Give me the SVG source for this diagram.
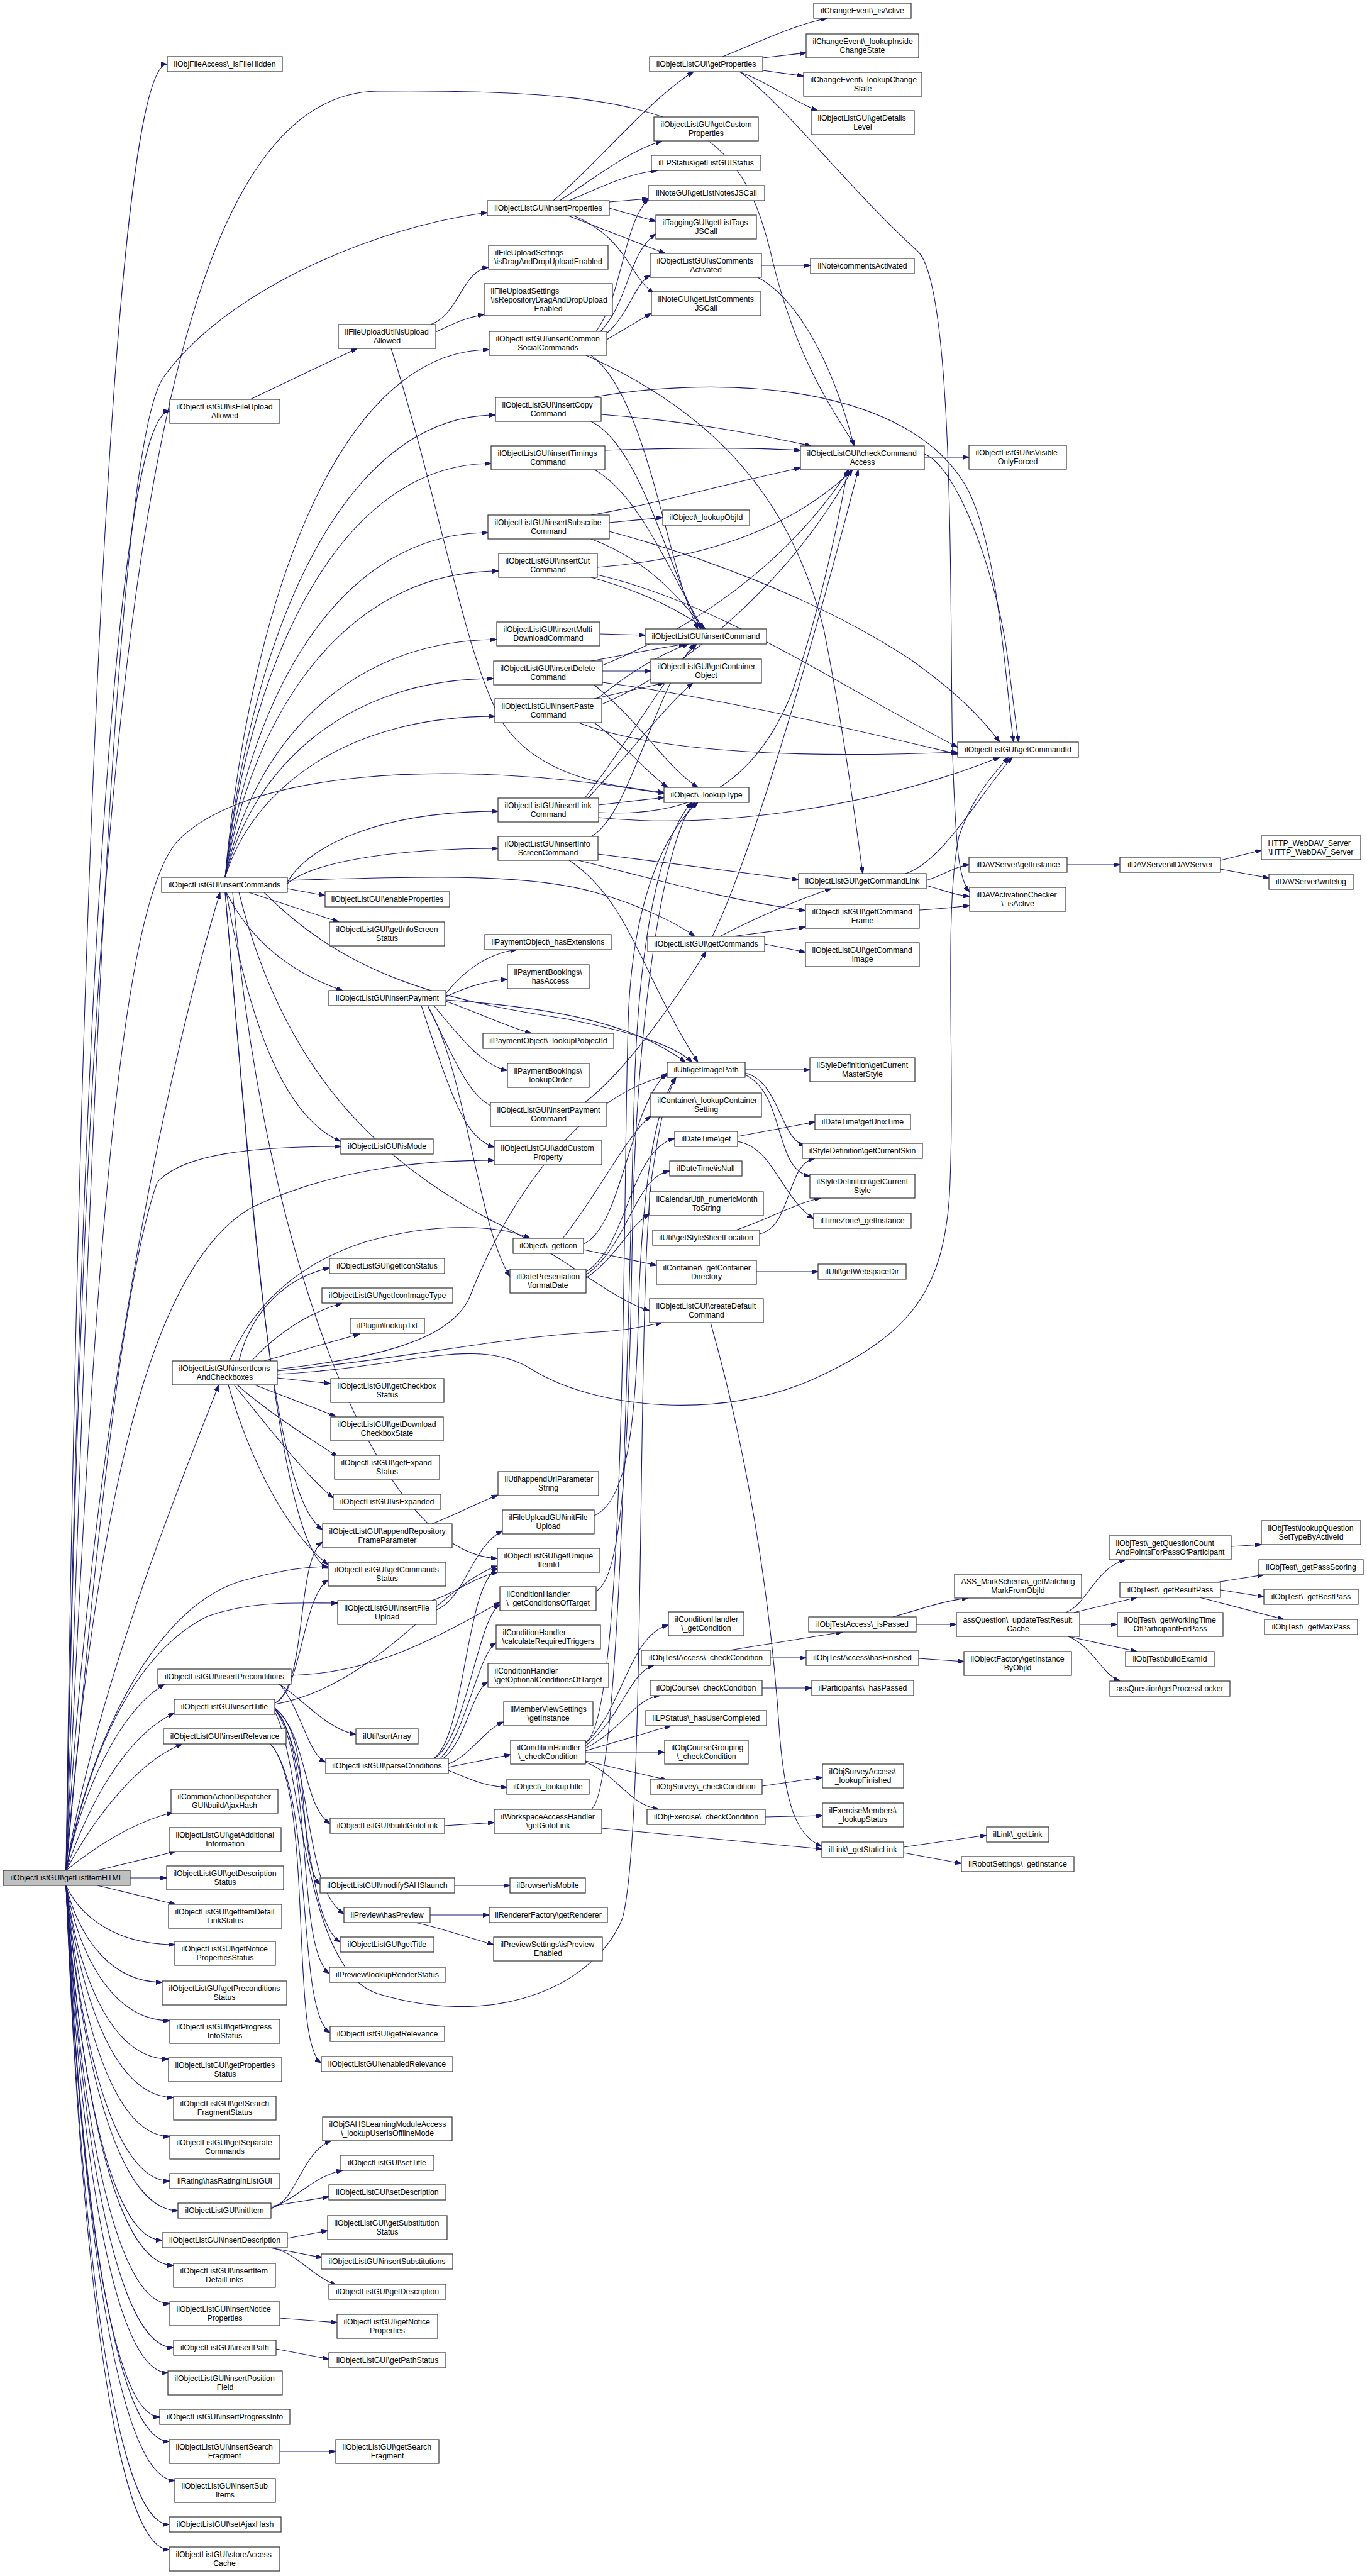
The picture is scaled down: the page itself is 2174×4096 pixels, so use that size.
<svg xmlns="http://www.w3.org/2000/svg" width="2174" height="4096" viewBox="0 0 2174 4096">
<style>
.n rect{fill:#fff;stroke:#333;stroke-width:1.2}
.n text{font-family:"Liberation Sans",Arial,sans-serif;font-size:12.3px;fill:#000}
.c{text-anchor:middle}
.e path{fill:none;stroke:#191970;stroke-width:1.1;marker-end:url(#a)}
</style>
<defs><marker id="a" viewBox="0 0 10 7" refX="10" refY="3.5" markerWidth="10" markerHeight="7" markerUnits="userSpaceOnUse" orient="auto"><path d="M0,0 L10,3.5 L0,7 z" fill="#191970" stroke="#191970" stroke-width="1"/></marker></defs>
<rect width="2174" height="4096" fill="#fff"/>
<g id="edges" class="e">
<path d="M105,2974 C129,1251 186,102 266,102"/>
<path d="M105,2974 C130,1582 188,654 270,654"/>
<path d="M105,2974 C150,1600 190,700 260,600 C360,460 600,360 775,338"/>
<path d="M105,2974 C140,1200 220,150 600,145 C1100,140 1180,200 1230,420 C1270,580 1330,660 1359,708"/>
<path d="M105,2974 C150,2200 280,1650 350,1419"/>
<path d="M105,2974 C150,2000 190,1450 280,1340 C380,1230 700,1200 1056,1262"/>
<path d="M105,2974 C150,2500 190,2050 250,1880 C290,1835 400,1823 542,1823"/>
<path d="M105,2974 C150,2700 270,2400 348,2202"/>
<path d="M105,2974 C140,2780 240,2560 380,2515 C450,2495 490,2491 522,2491"/>
<path d="M105,2974 C150,2750 230,2620 330,2570 C400,2545 470,2549 537,2549"/>
<path d="M105,2974 C130,2850 190,2720 262,2678"/>
<path d="M105,2974 C140,2870 200,2760 277,2724"/>
<path d="M105,2974 C150,2890 220,2800 290,2773"/>
<path d="M105,2974 C160,2930 220,2895 275,2882"/>
<path d="M155,2974 L279,2944"/>
<path d="M207,2986 L265,2986"/>
<path d="M155,2998 L279,3028"/>
<path d="M105,2998 C131,3054 192,3092 278,3092"/>
<path d="M105,2998 C128,3090 182,3152 258,3152"/>
<path d="M105,2998 C130,3127 188,3213 270,3213"/>
<path d="M105,2998 C129,3164 186,3274 268,3274"/>
<path d="M105,2998 C131,3200 190,3335 276,3335"/>
<path d="M105,2998 C130,3237 188,3397 270,3397"/>
<path d="M105,2998 C130,3276 188,3468 270,3468"/>
<path d="M105,2998 C132,3307 194,3515 283,3515"/>
<path d="M105,2998 C128,3333 182,3562 258,3562"/>
<path d="M105,2998 C131,3360 190,3602 276,3602"/>
<path d="M105,2998 C130,3397 188,3663 270,3663"/>
<path d="M105,2998 C131,3435 190,3733 276,3733"/>
<path d="M105,2998 C129,3463 186,3773 267,3773"/>
<path d="M105,2998 C127,3501 180,3843 254,3843"/>
<path d="M105,2998 C130,3528 187,3882 269,3882"/>
<path d="M105,2998 C131,3566 192,3944 278,3944"/>
<path d="M105,2998 C130,3604 187,4014 269,4014"/>
<path d="M105,2998 C130,3632 187,4054 269,4054"/>
<path d="M105,2974 C160,2300 260,2000 400,1920 C550,1850 700,1845 786,1845"/>
<path d="M358,1395 C400,934 547,556 778,556"/>
<path d="M358,1395 C401,991 552,660 788,660"/>
<path d="M358,1395 C400,1033 548,737 781,737"/>
<path d="M358,1395 C400,1094 546,847 776,847"/>
<path d="M358,1395 C402,1127 554,908 793,908"/>
<path d="M358,1395 C401,1187 552,1017 790,1017"/>
<path d="M358,1395 C401,1221 550,1079 785,1079"/>
<path d="M358,1395 C401,1254 551,1139 787,1139"/>
<path d="M457,1403 C491,1343 608,1290 792,1290"/>
<path d="M457,1405 C491,1375 608,1349 792,1349"/>
<path d="M457,1400 C700,1392 850,1390 950,1420 C1020,1440 1080,1470 1105,1489"/>
<path d="M457,1413 L517,1424"/>
<path d="M396,1419 L539,1466"/>
<path d="M360,1419 C400,1500 470,1550 545,1575"/>
<path d="M360,1419 C400,1650 460,1780 542,1815"/>
<path d="M358,1419 C400,1900 430,2380 513,2432"/>
<path d="M358,1419 C400,1900 440,2460 522,2494"/>
<path d="M420,1419 C550,1550 700,1590 900,1620 C1000,1640 1070,1660 1101,1689"/>
<path d="M380,1419 C450,1700 600,1850 800,1950 C900,2000 980,2070 1033,2084"/>
<path d="M370,1419 C420,2000 600,2470 791,2478"/>
<path d="M380,2164 C400,2080 460,2030 524,2016"/>
<path d="M400,2164 C450,2110 500,2085 544,2072"/>
<path d="M420,2164 L572,2121"/>
<path d="M441,2191 L526,2200"/>
<path d="M405,2202 L534,2252"/>
<path d="M377,2202 C420,2240 480,2280 537,2316"/>
<path d="M372,2202 C420,2260 480,2340 530,2382"/>
<path d="M363,2202 C400,2330 460,2440 522,2488"/>
<path d="M365,2164 C400,2080 470,2010 580,1975 C700,1940 800,1950 843,1969"/>
<path d="M441,2177 C600,2160 720,2130 748,2060 C790,1950 900,1750 1061,1710"/>
<path d="M441,2180 C650,2160 800,2125 950,2118 C1000,2115 1030,2108 1053,2103"/>
<path d="M441,2185 C650,2175 760,2120 850,2180 C950,2240 1150,2260 1300,2190 C1450,2120 1500,2050 1510,1900 C1520,1700 1500,1450 1525,1330 C1545,1270 1580,1230 1604,1204"/>
<path d="M687,2423 C720,2410 760,2390 792,2377"/>
<path d="M694,2560 C740,2540 750,2460 799,2434"/>
<path d="M687,2545 C730,2530 750,2510 791,2500"/>
<path d="M945,2410 C990,2390 1010,2300 1015,2100 C1020,1900 1040,1760 1075,1713"/>
<path d="M948,2530 C990,2510 1000,2300 1005,2000 C1010,1600 1060,1320 1105,1276"/>
<path d="M444,2678 C480,2700 520,2750 566,2758"/>
<path d="M445,2678 C480,2720 490,2790 518,2802"/>
<path d="M463,2664 C600,2660 700,2600 795,2548"/>
<path d="M437,2718 C490,2760 480,3050 541,3088"/>
<path d="M437,2716 C500,2760 470,2960 509,2996"/>
<path d="M437,2716 C500,2800 480,3000 547,3043"/>
<path d="M437,2718 C500,2800 470,3100 524,3138"/>
<path d="M437,2716 C490,2760 480,2870 525,2900"/>
<path d="M437,2708 C480,2690 480,2540 522,2512"/>
<path d="M437,2708 C490,2680 470,2480 513,2452"/>
<path d="M437,2710 C600,2680 700,2520 791,2490"/>
<path d="M437,2722 C480,2800 480,3130 600,3170 C800,3230 950,3150 990,3050 C1030,2900 1010,2000 1040,1850 C1050,1780 1060,1740 1075,1713"/>
<path d="M430,2773 C500,2850 470,3200 525,3232"/>
<path d="M430,2773 C500,2850 460,3250 511,3280"/>
<path d="M690,2796 C740,2770 760,2570 795,2552"/>
<path d="M700,2796 C740,2760 760,2630 789,2612"/>
<path d="M705,2796 C740,2770 750,2690 776,2674"/>
<path d="M713,2805 C750,2790 770,2750 801,2738"/>
<path d="M713,2810 L812,2790"/>
<path d="M713,2815 C750,2830 770,2840 806,2842"/>
<path d="M690,2796 C740,2760 740,2520 791,2494"/>
<path d="M707,2903 L786,2898"/>
<path d="M723,2998 L811,2998"/>
<path d="M684,3045 L778,3045"/>
<path d="M660,3057 C700,3065 740,3080 785,3092"/>
<path d="M431,3510 C470,3505 480,3420 527,3404"/>
<path d="M431,3512 C480,3490 500,3460 545,3451"/>
<path d="M431,3508 L523,3493"/>
<path d="M457,3559 L521,3547"/>
<path d="M430,3574 L513,3590"/>
<path d="M430,3574 C470,3580 490,3615 535,3634"/>
<path d="M445,3686 L536,3693"/>
<path d="M439,3735 L523,3751"/>
<path d="M445,3898 L534,3898"/>
<path d="M398,635 L568,554"/>
<path d="M685,516 C730,500 735,430 777,425"/>
<path d="M693,528 C720,515 740,505 770,500"/>
<path d="M622,554 C700,800 740,1050 800,1150 C860,1240 980,1250 1056,1260"/>
<path d="M880,319 C950,260 1030,160 1103,114"/>
<path d="M890,319 C950,280 1000,240 1053,224"/>
<path d="M905,319 C950,300 1000,275 1046,271"/>
<path d="M969,321 L1031,316"/>
<path d="M969,331 L1043,352"/>
<path d="M901,342 L1058,403"/>
<path d="M910,342 C1000,380 1000,440 1040,466"/>
<path d="M1149,90 C1200,70 1260,40 1316,29"/>
<path d="M1213,92 L1282,84"/>
<path d="M1213,112 L1278,121"/>
<path d="M1175,114 C1220,130 1260,160 1300,176"/>
<path d="M1177,114 C1260,180 1350,300 1460,400 C1520,460 1510,1000 1515,1200 C1520,1350 1525,1400 1542,1418"/>
<path d="M1211,422 L1289,422"/>
<path d="M1205,441 C1260,470 1320,560 1358,709"/>
<path d="M948,527 C990,470 990,360 1031,316"/>
<path d="M955,527 C1000,480 1000,400 1043,372"/>
<path d="M965,530 C1000,500 1010,450 1034,438"/>
<path d="M965,540 L1036,498"/>
<path d="M940,565 C1030,630 1060,900 1110,1000"/>
<path d="M932,565 C1100,640 1250,760 1310,1000 C1340,1150 1360,1300 1372,1389"/>
<path d="M956,659 C1100,670 1200,690 1290,709"/>
<path d="M940,670 C1020,710 1060,900 1115,1000"/>
<path d="M940,632 C1150,595 1450,610 1540,780 C1590,880 1600,1100 1612,1180"/>
<path d="M962,716 C1100,711 1200,712 1273,716"/>
<path d="M946,747 C1020,790 1070,920 1118,1000"/>
<path d="M969,831 L1054,823"/>
<path d="M940,819 C1050,800 1150,770 1273,744"/>
<path d="M940,857 C1030,890 1080,950 1120,1000"/>
<path d="M969,845 C1100,880 1300,950 1450,1050 C1520,1100 1560,1140 1590,1180"/>
<path d="M950,902 C1100,890 1250,850 1356,747"/>
<path d="M940,918 C1020,940 1080,970 1122,1000"/>
<path d="M950,914 C1150,960 1350,1100 1523,1188"/>
<path d="M954,1008 L1026,1010"/>
<path d="M958,1067 L1035,1067"/>
<path d="M940,1051 C1000,1040 1050,1030 1090,1024"/>
<path d="M958,1058 C1100,1000 1250,900 1350,747"/>
<path d="M958,1085 C1150,1110 1400,1170 1523,1199"/>
<path d="M945,1089 C1020,1150 1060,1220 1110,1252"/>
<path d="M945,1111 L1056,1086"/>
<path d="M950,1111 C1000,1070 1050,1040 1095,1024"/>
<path d="M957,1120 C1120,1050 1270,900 1355,747"/>
<path d="M920,1149 C1050,1200 1300,1205 1523,1196"/>
<path d="M945,1149 C1000,1190 1030,1230 1062,1252"/>
<path d="M952,1280 L1056,1268"/>
<path d="M935,1269 C1000,1200 1060,1120 1102,1086"/>
<path d="M930,1269 C1000,1180 1060,1070 1108,1024"/>
<path d="M952,1292 C1100,1300 1200,1250 1260,1100 C1300,980 1330,850 1348,747"/>
<path d="M952,1300 C1150,1320 1400,1280 1590,1204"/>
<path d="M940,1330 C1000,1300 1040,1100 1104,1024"/>
<path d="M951,1358 L1270,1399"/>
<path d="M920,1368 C1050,1400 1150,1430 1281,1448"/>
<path d="M905,1368 C1000,1430 1020,1550 1110,1689"/>
<path d="M1145,1489 C1200,1460 1270,1430 1322,1413"/>
<path d="M1165,1489 L1281,1474"/>
<path d="M1216,1501 L1281,1514"/>
<path d="M1133,1489 C1200,1350 1300,1000 1365,747"/>
<path d="M1440,1389 C1500,1370 1560,1260 1610,1204"/>
<path d="M1473,1400 C1500,1392 1520,1377 1541,1375"/>
<path d="M1473,1408 C1500,1415 1520,1424 1542,1425"/>
<path d="M1462,1447 C1500,1445 1520,1442 1542,1440"/>
<path d="M1697,1375 L1781,1375"/>
<path d="M1941,1368 L2006,1352"/>
<path d="M1941,1382 L2018,1396"/>
<path d="M1470,727 L1541,727"/>
<path d="M1470,722 C1520,740 1580,900 1600,1028 C1610,1100 1615,1150 1620,1180"/>
<path d="M928,1978 C990,1950 1000,1760 1061,1706"/>
<path d="M895,1969 C950,1900 1000,1800 1035,1775"/>
<path d="M928,1987 L1044,2012"/>
<path d="M932,2022 C1000,1980 1000,1830 1073,1810"/>
<path d="M932,2027 C1000,1980 1010,1870 1065,1862"/>
<path d="M932,2032 C980,2000 1000,1950 1033,1930"/>
<path d="M1173,1807 L1296,1784"/>
<path d="M1173,1815 C1230,1825 1240,1900 1294,1938"/>
<path d="M1185,1701 L1288,1701"/>
<path d="M1185,1706 C1240,1720 1240,1810 1280,1822"/>
<path d="M1185,1709 C1250,1740 1230,1860 1288,1870"/>
<path d="M1208,1962 C1260,1950 1250,1850 1296,1842"/>
<path d="M1170,1956 C1220,1940 1260,1915 1305,1905"/>
<path d="M1203,2022 L1301,2022"/>
<path d="M709,1580 C740,1540 780,1515 822,1510"/>
<path d="M709,1585 C740,1570 770,1560 807,1557"/>
<path d="M709,1592 C760,1610 800,1630 845,1643"/>
<path d="M690,1599 C740,1660 770,1695 807,1702"/>
<path d="M680,1599 C730,1700 750,1750 790,1762"/>
<path d="M670,1599 C720,1750 740,1810 786,1824"/>
<path d="M709,1590 C850,1600 1000,1620 1090,1689"/>
<path d="M680,1599 C740,1700 760,1950 811,2030"/>
<path d="M930,1753 C1000,1700 1080,1580 1123,1513"/>
<path d="M1130,2103 C1200,2350 1230,2600 1240,2760 C1250,2880 1270,2920 1307,2936"/>
<path d="M957,2907 L1307,2940"/>
<path d="M940,2877 C990,2850 1000,2000 1010,1700 C1020,1450 1060,1320 1100,1276"/>
<path d="M931,2772 C990,2720 1000,2600 1063,2584"/>
<path d="M931,2776 C990,2730 1000,2660 1040,2648"/>
<path d="M931,2780 C990,2750 1010,2700 1050,2696"/>
<path d="M931,2784 L1067,2744"/>
<path d="M931,2786 L1057,2786"/>
<path d="M931,2800 L1060,2830"/>
<path d="M931,2802 C980,2820 1000,2870 1048,2877"/>
<path d="M931,2770 C1000,2740 990,1800 1000,1600 C1010,1420 1060,1320 1110,1276"/>
<path d="M1160,2624 L1340,2595"/>
<path d="M1225,2636 L1282,2636"/>
<path d="M1212,2684 L1291,2684"/>
<path d="M1212,2840 L1308,2826"/>
<path d="M1217,2889 L1308,2887"/>
<path d="M1420,2571 C1460,2560 1500,2545 1540,2541"/>
<path d="M1457,2583 L1521,2583"/>
<path d="M1461,2637 L1533,2642"/>
<path d="M1695,2564 C1730,2550 1740,2495 1790,2480"/>
<path d="M1708,2564 L1808,2540"/>
<path d="M1717,2583 L1777,2583"/>
<path d="M1699,2602 L1808,2626"/>
<path d="M1699,2602 C1740,2620 1750,2660 1781,2673"/>
<path d="M1958,2459 L2006,2456"/>
<path d="M1934,2516 L2010,2504"/>
<path d="M1941,2528 L2010,2539"/>
<path d="M1908,2540 L2042,2575"/>
<path d="M1437,2937 L1569,2918"/>
<path d="M1437,2946 L1529,2963"/>
</g>
<g id="n_root" class="n"><rect x="5" y="2974" width="202" height="24" style="fill:#bfbfbf"/><text class="c" x="106" y="2990.4">ilObjectListGUI\getListItemHTML</text></g>
<g id="n_isFileHidden" class="n"><rect x="266" y="90" width="183" height="24"/><text class="c" x="357.5" y="106.4">ilObjFileAccess\_isFileHidden</text></g>
<g id="n_isFileUploadAllowed" class="n"><rect x="270" y="635" width="175" height="38"/><text x="280.5" y="650.7">ilObjectListGUI\isFileUpload</text><text class="c" x="357.5" y="664.7">Allowed</text></g>
<g id="n_insertCommands" class="n"><rect x="257" y="1395" width="200" height="24"/><text class="c" x="357" y="1411.4">ilObjectListGUI\insertCommands</text></g>
<g id="n_insertIcons" class="n"><rect x="274" y="2164" width="167" height="38"/><text x="284.5" y="2179.7">ilObjectListGUI\insertIcons</text><text class="c" x="357.5" y="2193.7">AndCheckboxes</text></g>
<g id="n_insertPreconditions" class="n"><rect x="251" y="2654" width="212" height="24"/><text class="c" x="357" y="2670.4">ilObjectListGUI\insertPreconditions</text></g>
<g id="n_insertTitle" class="n"><rect x="277" y="2702" width="160" height="24"/><text class="c" x="357" y="2718.4">ilObjectListGUI\insertTitle</text></g>
<g id="n_insertRelevance" class="n"><rect x="260" y="2749" width="195" height="24"/><text class="c" x="357.5" y="2765.4">ilObjectListGUI\insertRelevance</text></g>
<g id="n_buildAjaxHash" class="n"><rect x="272" y="2845" width="170" height="38"/><text x="282.5" y="2860.7">ilCommonActionDispatcher</text><text class="c" x="357" y="2874.7">GUI\buildAjaxHash</text></g>
<g id="n_getAdditionalInformation" class="n"><rect x="269" y="2906" width="178" height="38"/><text x="279.5" y="2921.7">ilObjectListGUI\getAdditional</text><text class="c" x="358" y="2935.7">Information</text></g>
<g id="n_getDescriptionStatus" class="n"><rect x="265" y="2967" width="186" height="38"/><text x="275.5" y="2982.7">ilObjectListGUI\getDescription</text><text class="c" x="358" y="2996.7">Status</text></g>
<g id="n_getItemDetailLinkStatus" class="n"><rect x="268" y="3028" width="180" height="38"/><text x="278.5" y="3043.7">ilObjectListGUI\getItemDetail</text><text class="c" x="358" y="3057.7">LinkStatus</text></g>
<g id="n_getNoticePropertiesStatus" class="n"><rect x="278" y="3087" width="160" height="38"/><text x="288.5" y="3102.7">ilObjectListGUI\getNotice</text><text class="c" x="358" y="3116.7">PropertiesStatus</text></g>
<g id="n_getPreconditionsStatus" class="n"><rect x="258" y="3150" width="198" height="38"/><text x="268.5" y="3165.7">ilObjectListGUI\getPreconditions</text><text class="c" x="357" y="3179.7">Status</text></g>
<g id="n_getProgressInfoStatus" class="n"><rect x="270" y="3211" width="175" height="38"/><text x="280.5" y="3226.7">ilObjectListGUI\getProgress</text><text class="c" x="357.5" y="3240.7">InfoStatus</text></g>
<g id="n_getPropertiesStatus" class="n"><rect x="268" y="3272" width="180" height="38"/><text x="278.5" y="3287.7">ilObjectListGUI\getProperties</text><text class="c" x="358" y="3301.7">Status</text></g>
<g id="n_getSearchFragmentStatus" class="n"><rect x="276" y="3333" width="163" height="38"/><text x="286.5" y="3348.7">ilObjectListGUI\getSearch</text><text class="c" x="357.5" y="3362.7">FragmentStatus</text></g>
<g id="n_getSeparateCommands" class="n"><rect x="270" y="3395" width="175" height="38"/><text x="280.5" y="3410.7">ilObjectListGUI\getSeparate</text><text class="c" x="357.5" y="3424.7">Commands</text></g>
<g id="n_hasRatingInListGUI" class="n"><rect x="270" y="3456" width="175" height="24"/><text class="c" x="357.5" y="3472.4">ilRating\hasRatingInListGUI</text></g>
<g id="n_initItem" class="n"><rect x="283" y="3503" width="148" height="24"/><text class="c" x="357" y="3519.4">ilObjectListGUI\initItem</text></g>
<g id="n_insertDescription" class="n"><rect x="258" y="3550" width="199" height="24"/><text class="c" x="357.5" y="3566.4">ilObjectListGUI\insertDescription</text></g>
<g id="n_insertItemDetailLinks" class="n"><rect x="276" y="3599" width="162" height="38"/><text x="286.5" y="3614.7">ilObjectListGUI\insertItem</text><text class="c" x="357" y="3628.7">DetailLinks</text></g>
<g id="n_insertNoticeProperties" class="n"><rect x="270" y="3660" width="175" height="38"/><text x="280.5" y="3675.7">ilObjectListGUI\insertNotice</text><text class="c" x="357.5" y="3689.7">Properties</text></g>
<g id="n_insertPath" class="n"><rect x="276" y="3721" width="163" height="24"/><text class="c" x="357.5" y="3737.4">ilObjectListGUI\insertPath</text></g>
<g id="n_insertPositionField" class="n"><rect x="267" y="3770" width="182" height="38"/><text x="277.5" y="3785.7">ilObjectListGUI\insertPosition</text><text class="c" x="358" y="3799.7">Field</text></g>
<g id="n_insertProgressInfo" class="n"><rect x="254" y="3831" width="207" height="24"/><text class="c" x="357.5" y="3847.4">ilObjectListGUI\insertProgressInfo</text></g>
<g id="n_insertSearchFragment" class="n"><rect x="269" y="3879" width="176" height="38"/><text x="279.5" y="3894.7">ilObjectListGUI\insertSearch</text><text class="c" x="357" y="3908.7">Fragment</text></g>
<g id="n_insertSubItems" class="n"><rect x="278" y="3941" width="160" height="38"/><text x="288.5" y="3956.7">ilObjectListGUI\insertSub</text><text class="c" x="358" y="3970.7">Items</text></g>
<g id="n_setAjaxHash" class="n"><rect x="269" y="4002" width="178" height="24"/><text class="c" x="358" y="4018.4">ilObjectListGUI\setAjaxHash</text></g>
<g id="n_storeAccessCache" class="n"><rect x="269" y="4050" width="176" height="38"/><text x="279.5" y="4065.7">ilObjectListGUI\storeAccess</text><text class="c" x="357" y="4079.7">Cache</text></g>
<g id="n_fileUploadUtil" class="n"><rect x="538" y="516" width="155" height="38"/><text x="548.5" y="531.7">ilFileUploadUtil\isUpload</text><text class="c" x="615.5" y="545.7">Allowed</text></g>
<g id="n_enableProperties" class="n"><rect x="517" y="1418" width="198" height="24"/><text class="c" x="616" y="1434.4">ilObjectListGUI\enableProperties</text></g>
<g id="n_getInfoScreenStatus" class="n"><rect x="524" y="1466" width="183" height="38"/><text x="534.5" y="1481.7">ilObjectListGUI\getInfoScreen</text><text class="c" x="615.5" y="1495.7">Status</text></g>
<g id="n_insertPayment" class="n"><rect x="523" y="1575" width="186" height="24"/><text class="c" x="616" y="1591.4">ilObjectListGUI\insertPayment</text></g>
<g id="n_isMode" class="n"><rect x="542" y="1811" width="147" height="24"/><text class="c" x="615.5" y="1827.4">ilObjectListGUI\isMode</text></g>
<g id="n_getIconStatus" class="n"><rect x="524" y="2001" width="183" height="24"/><text class="c" x="615.5" y="2017.4">ilObjectListGUI\getIconStatus</text></g>
<g id="n_getIconImageType" class="n"><rect x="512" y="2048" width="208" height="24"/><text class="c" x="616" y="2064.4">ilObjectListGUI\getIconImageType</text></g>
<g id="n_lookupTxt" class="n"><rect x="557" y="2096" width="118" height="24"/><text class="c" x="616" y="2112.4">ilPlugin\lookupTxt</text></g>
<g id="n_getCheckboxStatus" class="n"><rect x="526" y="2192" width="180" height="38"/><text x="536.5" y="2207.7">ilObjectListGUI\getCheckbox</text><text class="c" x="616" y="2221.7">Status</text></g>
<g id="n_getDownloadCheckboxState" class="n"><rect x="526" y="2253" width="179" height="38"/><text x="536.5" y="2268.7">ilObjectListGUI\getDownload</text><text class="c" x="615.5" y="2282.7">CheckboxState</text></g>
<g id="n_getExpandStatus" class="n"><rect x="532" y="2314" width="167" height="38"/><text x="542.5" y="2329.7">ilObjectListGUI\getExpand</text><text class="c" x="615.5" y="2343.7">Status</text></g>
<g id="n_isExpanded" class="n"><rect x="530" y="2376" width="171" height="24"/><text class="c" x="615.5" y="2392.4">ilObjectListGUI\isExpanded</text></g>
<g id="n_appendRepositoryFrameParameter" class="n"><rect x="513" y="2423" width="206" height="38"/><text x="523.5" y="2438.7">ilObjectListGUI\appendRepository</text><text class="c" x="616" y="2452.7">FrameParameter</text></g>
<g id="n_getCommandsStatus" class="n"><rect x="522" y="2484" width="187" height="38"/><text x="532.5" y="2499.7">ilObjectListGUI\getCommands</text><text class="c" x="615.5" y="2513.7">Status</text></g>
<g id="n_insertFileUpload" class="n"><rect x="537" y="2545" width="157" height="38"/><text x="547.5" y="2560.7">ilObjectListGUI\insertFile</text><text class="c" x="615.5" y="2574.7">Upload</text></g>
<g id="n_sortArray" class="n"><rect x="566" y="2749" width="99" height="24"/><text class="c" x="615.5" y="2765.4">ilUtil\sortArray</text></g>
<g id="n_parseConditions" class="n"><rect x="518" y="2796" width="195" height="24"/><text class="c" x="615.5" y="2812.4">ilObjectListGUI\parseConditions</text></g>
<g id="n_buildGotoLink" class="n"><rect x="525" y="2891" width="182" height="24"/><text class="c" x="616" y="2907.4">ilObjectListGUI\buildGotoLink</text></g>
<g id="n_modifySAHSlaunch" class="n"><rect x="509" y="2986" width="214" height="24"/><text class="c" x="616" y="3002.4">ilObjectListGUI\modifySAHSlaunch</text></g>
<g id="n_hasPreview" class="n"><rect x="547" y="3033" width="137" height="24"/><text class="c" x="615.5" y="3049.4">ilPreview\hasPreview</text></g>
<g id="n_getTitle" class="n"><rect x="541" y="3080" width="149" height="24"/><text class="c" x="615.5" y="3096.4">ilObjectListGUI\getTitle</text></g>
<g id="n_lookupRenderStatus" class="n"><rect x="524" y="3128" width="184" height="24"/><text class="c" x="616" y="3144.4">ilPreview\lookupRenderStatus</text></g>
<g id="n_getRelevance" class="n"><rect x="525" y="3222" width="182" height="24"/><text class="c" x="616" y="3238.4">ilObjectListGUI\getRelevance</text></g>
<g id="n_enabledRelevance" class="n"><rect x="511" y="3270" width="209" height="24"/><text class="c" x="615.5" y="3286.4">ilObjectListGUI\enabledRelevance</text></g>
<g id="n_lookupUserIsOfflineMode" class="n"><rect x="513" y="3366" width="206" height="38"/><text x="523.5" y="3381.7">ilObjSAHSLearningModuleAccess</text><text class="c" x="616" y="3395.7">\_lookupUserIsOfflineMode</text></g>
<g id="n_setTitle" class="n"><rect x="541" y="3427" width="149" height="24"/><text class="c" x="615.5" y="3443.4">ilObjectListGUI\setTitle</text></g>
<g id="n_setDescription" class="n"><rect x="523" y="3474" width="186" height="24"/><text class="c" x="616" y="3490.4">ilObjectListGUI\setDescription</text></g>
<g id="n_getSubstitutionStatus" class="n"><rect x="521" y="3523" width="190" height="38"/><text x="531.5" y="3538.7">ilObjectListGUI\getSubstitution</text><text class="c" x="616" y="3552.7">Status</text></g>
<g id="n_insertSubstitutions" class="n"><rect x="511" y="3584" width="209" height="24"/><text class="c" x="615.5" y="3600.4">ilObjectListGUI\insertSubstitutions</text></g>
<g id="n_getDescription" class="n"><rect x="523" y="3632" width="186" height="24"/><text class="c" x="616" y="3648.4">ilObjectListGUI\getDescription</text></g>
<g id="n_getNoticeProperties" class="n"><rect x="536" y="3680" width="160" height="38"/><text x="546.5" y="3695.7">ilObjectListGUI\getNotice</text><text class="c" x="616" y="3709.7">Properties</text></g>
<g id="n_getPathStatus" class="n"><rect x="523" y="3741" width="186" height="24"/><text class="c" x="616" y="3757.4">ilObjectListGUI\getPathStatus</text></g>
<g id="n_getSearchFragment" class="n"><rect x="534" y="3879" width="164" height="38"/><text x="544.5" y="3894.7">ilObjectListGUI\getSearch</text><text class="c" x="616" y="3908.7">Fragment</text></g>
<g id="n_insertProperties" class="n"><rect x="775" y="319" width="194" height="24"/><text class="c" x="872" y="335.4">ilObjectListGUI\insertProperties</text></g>
<g id="n_isDragAndDropUploadEnabled" class="n"><rect x="777" y="390" width="190" height="38"/><text x="787.5" y="405.7">ilFileUploadSettings</text><text class="c" x="872" y="419.7">\isDragAndDropUploadEnabled</text></g>
<g id="n_isRepositoryDragAndDropUploadEnabled" class="n"><rect x="770" y="451" width="204" height="51"/><text x="780.5" y="466.7">ilFileUploadSettings</text><text x="780.5" y="480.7">\isRepositoryDragAndDropUpload</text><text class="c" x="872" y="494.7">Enabled</text></g>
<g id="n_insertCommonSocialCommands" class="n"><rect x="778" y="527" width="187" height="38"/><text x="788.5" y="542.7">ilObjectListGUI\insertCommon</text><text class="c" x="871.5" y="556.7">SocialCommands</text></g>
<g id="n_insertCopyCommand" class="n"><rect x="788" y="632" width="168" height="38"/><text x="798.5" y="647.7">ilObjectListGUI\insertCopy</text><text class="c" x="872" y="661.7">Command</text></g>
<g id="n_insertTimingsCommand" class="n"><rect x="781" y="709" width="181" height="38"/><text x="791.5" y="724.7">ilObjectListGUI\insertTimings</text><text class="c" x="871.5" y="738.7">Command</text></g>
<g id="n_insertSubscribeCommand" class="n"><rect x="776" y="819" width="193" height="38"/><text x="786.5" y="834.7">ilObjectListGUI\insertSubscribe</text><text class="c" x="872.5" y="848.7">Command</text></g>
<g id="n_insertCutCommand" class="n"><rect x="793" y="880" width="157" height="38"/><text x="803.5" y="895.7">ilObjectListGUI\insertCut</text><text class="c" x="871.5" y="909.7">Command</text></g>
<g id="n_insertMultiDownloadCommand" class="n"><rect x="790" y="989" width="164" height="38"/><text x="800.5" y="1004.7">ilObjectListGUI\insertMulti</text><text class="c" x="872" y="1018.7">DownloadCommand</text></g>
<g id="n_insertDeleteCommand" class="n"><rect x="785" y="1051" width="173" height="38"/><text x="795.5" y="1066.7">ilObjectListGUI\insertDelete</text><text class="c" x="871.5" y="1080.7">Command</text></g>
<g id="n_insertPasteCommand" class="n"><rect x="787" y="1111" width="170" height="38"/><text x="797.5" y="1126.7">ilObjectListGUI\insertPaste</text><text class="c" x="872" y="1140.7">Command</text></g>
<g id="n_insertLinkCommand" class="n"><rect x="792" y="1269" width="160" height="38"/><text x="802.5" y="1284.7">ilObjectListGUI\insertLink</text><text class="c" x="872" y="1298.7">Command</text></g>
<g id="n_insertInfoScreenCommand" class="n"><rect x="792" y="1330" width="159" height="38"/><text x="802.5" y="1345.7">ilObjectListGUI\insertInfo</text><text class="c" x="871.5" y="1359.7">ScreenCommand</text></g>
<g id="n_hasExtensions" class="n"><rect x="771" y="1486" width="201" height="24"/><text class="c" x="871.5" y="1502.4">ilPaymentObject\_hasExtensions</text></g>
<g id="n_hasAccess" class="n"><rect x="807" y="1534" width="130" height="38"/><text x="817.5" y="1549.7">ilPaymentBookings\</text><text class="c" x="872" y="1563.7">_hasAccess</text></g>
<g id="n_lookupPobjectId" class="n"><rect x="768" y="1643" width="208" height="24"/><text class="c" x="872" y="1659.4">ilPaymentObject\_lookupPobjectId</text></g>
<g id="n_lookupOrder" class="n"><rect x="807" y="1691" width="130" height="38"/><text x="817.5" y="1706.7">ilPaymentBookings\</text><text class="c" x="872" y="1720.7">_lookupOrder</text></g>
<g id="n_insertPaymentCommand" class="n"><rect x="780" y="1753" width="185" height="38"/><text x="790.5" y="1768.7">ilObjectListGUI\insertPayment</text><text class="c" x="872.5" y="1782.7">Command</text></g>
<g id="n_addCustomProperty" class="n"><rect x="786" y="1814" width="171" height="38"/><text x="796.5" y="1829.7">ilObjectListGUI\addCustom</text><text class="c" x="871.5" y="1843.7">Property</text></g>
<g id="n_getIcon" class="n"><rect x="816" y="1969" width="112" height="24"/><text class="c" x="872" y="1985.4">ilObject\_getIcon</text></g>
<g id="n_formatDate" class="n"><rect x="811" y="2018" width="121" height="38"/><text x="821.5" y="2033.7">ilDatePresentation</text><text class="c" x="871.5" y="2047.7">\formatDate</text></g>
<g id="n_appendUrlParameterString" class="n"><rect x="792" y="2340" width="160" height="38"/><text x="802.5" y="2355.7">ilUtil\appendUrlParameter</text><text class="c" x="872" y="2369.7">String</text></g>
<g id="n_initFileUpload" class="n"><rect x="799" y="2401" width="146" height="38"/><text x="809.5" y="2416.7">ilFileUploadGUI\initFile</text><text class="c" x="872" y="2430.7">Upload</text></g>
<g id="n_getUniqueItemId" class="n"><rect x="791" y="2462" width="163" height="38"/><text x="801.5" y="2477.7">ilObjectListGUI\getUnique</text><text class="c" x="872.5" y="2491.7">ItemId</text></g>
<g id="n_getConditionsOfTarget" class="n"><rect x="795" y="2523" width="153" height="38"/><text x="805.5" y="2538.7">ilConditionHandler</text><text class="c" x="871.5" y="2552.7">\_getConditionsOfTarget</text></g>
<g id="n_calculateRequiredTriggers" class="n"><rect x="789" y="2584" width="166" height="38"/><text x="799.5" y="2599.7">ilConditionHandler</text><text class="c" x="872" y="2613.7">\calculateRequiredTriggers</text></g>
<g id="n_getOptionalConditionsOfTarget" class="n"><rect x="776" y="2645" width="192" height="38"/><text x="786.5" y="2660.7">ilConditionHandler</text><text class="c" x="872" y="2674.7">\getOptionalConditionsOfTarget</text></g>
<g id="n_memberViewGetInstance" class="n"><rect x="801" y="2706" width="142" height="38"/><text x="811.5" y="2721.7">ilMemberViewSettings</text><text class="c" x="872" y="2735.7">\getInstance</text></g>
<g id="n_condCheckCondition" class="n"><rect x="812" y="2767" width="119" height="38"/><text x="822.5" y="2782.7">ilConditionHandler</text><text class="c" x="871.5" y="2796.7">\_checkCondition</text></g>
<g id="n_lookupTitle" class="n"><rect x="806" y="2829" width="131" height="24"/><text class="c" x="871.5" y="2845.4">ilObject\_lookupTitle</text></g>
<g id="n_getGotoLink" class="n"><rect x="786" y="2877" width="171" height="38"/><text x="796.5" y="2892.7">ilWorkspaceAccessHandler</text><text class="c" x="871.5" y="2906.7">\getGotoLink</text></g>
<g id="n_isMobile" class="n"><rect x="811" y="2986" width="120" height="24"/><text class="c" x="871" y="3002.4">ilBrowser\isMobile</text></g>
<g id="n_getRenderer" class="n"><rect x="778" y="3033" width="188" height="24"/><text class="c" x="872" y="3049.4">ilRendererFactory\getRenderer</text></g>
<g id="n_isPreviewEnabled" class="n"><rect x="785" y="3080" width="173" height="38"/><text x="795.5" y="3095.7">ilPreviewSettings\isPreview</text><text class="c" x="871.5" y="3109.7">Enabled</text></g>
<g id="n_getProperties" class="n"><rect x="1033" y="90" width="180" height="24"/><text class="c" x="1123" y="106.4">ilObjectListGUI\getProperties</text></g>
<g id="n_getCustomProperties" class="n"><rect x="1040" y="186" width="166" height="38"/><text x="1050.5" y="201.7">ilObjectListGUI\getCustom</text><text class="c" x="1123" y="215.7">Properties</text></g>
<g id="n_getListGUIStatus" class="n"><rect x="1036" y="247" width="174" height="24"/><text class="c" x="1123" y="263.4">ilLPStatus\getListGUIStatus</text></g>
<g id="n_getListNotesJSCall" class="n"><rect x="1031" y="295" width="185" height="24"/><text class="c" x="1123.5" y="311.4">ilNoteGUI\getListNotesJSCall</text></g>
<g id="n_getListTagsJSCall" class="n"><rect x="1043" y="342" width="160" height="38"/><text x="1053.5" y="357.7">ilTaggingGUI\getListTags</text><text class="c" x="1123" y="371.7">JSCall</text></g>
<g id="n_isCommentsActivated" class="n"><rect x="1034" y="403" width="177" height="38"/><text x="1044.5" y="418.7">ilObjectListGUI\isComments</text><text class="c" x="1122.5" y="432.7">Activated</text></g>
<g id="n_getListCommentsJSCall" class="n"><rect x="1036" y="464" width="174" height="38"/><text x="1046.5" y="479.7">ilNoteGUI\getListComments</text><text class="c" x="1123" y="493.7">JSCall</text></g>
<g id="n_lookupObjId" class="n"><rect x="1054" y="811" width="138" height="24"/><text class="c" x="1123" y="827.4">ilObject\_lookupObjId</text></g>
<g id="n_insertCommand" class="n"><rect x="1026" y="1000" width="193" height="24"/><text class="c" x="1122.5" y="1016.4">ilObjectListGUI\insertCommand</text></g>
<g id="n_getContainerObject" class="n"><rect x="1035" y="1048" width="176" height="38"/><text x="1045.5" y="1063.7">ilObjectListGUI\getContainer</text><text class="c" x="1123" y="1077.7">Object</text></g>
<g id="n_lookupType" class="n"><rect x="1056" y="1252" width="135" height="24"/><text class="c" x="1123.5" y="1268.4">ilObject\_lookupType</text></g>
<g id="n_getCommands" class="n"><rect x="1030" y="1489" width="186" height="24"/><text class="c" x="1123" y="1505.4">ilObjectListGUI\getCommands</text></g>
<g id="n_getImagePath" class="n"><rect x="1061" y="1689" width="124" height="24"/><text class="c" x="1123" y="1705.4">ilUtil\getImagePath</text></g>
<g id="n_lookupContainerSetting" class="n"><rect x="1035" y="1738" width="176" height="38"/><text x="1045.5" y="1753.7">ilContainer\_lookupContainer</text><text class="c" x="1123" y="1767.7">Setting</text></g>
<g id="n_dateTimeGet" class="n"><rect x="1073" y="1799" width="100" height="24"/><text class="c" x="1123" y="1815.4">ilDateTime\get</text></g>
<g id="n_dateTimeIsNull" class="n"><rect x="1065" y="1846" width="115" height="24"/><text class="c" x="1122.5" y="1862.4">ilDateTime\isNull</text></g>
<g id="n_numericMonthToString" class="n"><rect x="1033" y="1895" width="181" height="38"/><text x="1043.5" y="1910.7">ilCalendarUtil\_numericMonth</text><text class="c" x="1123.5" y="1924.7">ToString</text></g>
<g id="n_getStyleSheetLocation" class="n"><rect x="1038" y="1956" width="170" height="24"/><text class="c" x="1123" y="1972.4">ilUtil\getStyleSheetLocation</text></g>
<g id="n_getContainerDirectory" class="n"><rect x="1044" y="2004" width="159" height="38"/><text x="1054.5" y="2019.7">ilContainer\_getContainer</text><text class="c" x="1123.5" y="2033.7">Directory</text></g>
<g id="n_createDefaultCommand" class="n"><rect x="1033" y="2065" width="181" height="38"/><text x="1043.5" y="2080.7">ilObjectListGUI\createDefault</text><text class="c" x="1123.5" y="2094.7">Command</text></g>
<g id="n_getCondition" class="n"><rect x="1063" y="2563" width="120" height="38"/><text x="1073.5" y="2578.7">ilConditionHandler</text><text class="c" x="1123" y="2592.7">\_getCondition</text></g>
<g id="n_testCheckCondition" class="n"><rect x="1020" y="2624" width="205" height="24"/><text class="c" x="1122.5" y="2640.4">ilObjTestAccess\_checkCondition</text></g>
<g id="n_courseCheckCondition" class="n"><rect x="1034" y="2672" width="178" height="24"/><text class="c" x="1123" y="2688.4">ilObjCourse\_checkCondition</text></g>
<g id="n_hasUserCompleted" class="n"><rect x="1027" y="2720" width="192" height="24"/><text class="c" x="1123" y="2736.4">ilLPStatus\_hasUserCompleted</text></g>
<g id="n_groupingCheckCondition" class="n"><rect x="1057" y="2767" width="133" height="38"/><text x="1067.5" y="2782.7">ilObjCourseGrouping</text><text class="c" x="1123.5" y="2796.7">\_checkCondition</text></g>
<g id="n_surveyCheckCondition" class="n"><rect x="1034" y="2829" width="178" height="24"/><text class="c" x="1123" y="2845.4">ilObjSurvey\_checkCondition</text></g>
<g id="n_exerciseCheckCondition" class="n"><rect x="1029" y="2877" width="188" height="24"/><text class="c" x="1123" y="2893.4">ilObjExercise\_checkCondition</text></g>
<g id="n_changeEventIsActive" class="n"><rect x="1294" y="5" width="155" height="24"/><text class="c" x="1371.5" y="21.4">ilChangeEvent\_isActive</text></g>
<g id="n_lookupInsideChangeState" class="n"><rect x="1282" y="54" width="179" height="38"/><text x="1292.5" y="69.7">ilChangeEvent\_lookupInside</text><text class="c" x="1371.5" y="83.7">ChangeState</text></g>
<g id="n_lookupChangeState" class="n"><rect x="1278" y="115" width="188" height="38"/><text x="1288.5" y="130.7">ilChangeEvent\_lookupChange</text><text class="c" x="1372" y="144.7">State</text></g>
<g id="n_getDetailsLevel" class="n"><rect x="1290" y="176" width="164" height="38"/><text x="1300.5" y="191.7">ilObjectListGUI\getDetails</text><text class="c" x="1372" y="205.7">Level</text></g>
<g id="n_commentsActivated" class="n"><rect x="1289" y="411" width="165" height="24"/><text class="c" x="1371.5" y="427.4">ilNote\commentsActivated</text></g>
<g id="n_checkCommandAccess" class="n"><rect x="1273" y="709" width="197" height="38"/><text x="1283.5" y="724.7">ilObjectListGUI\checkCommand</text><text class="c" x="1371.5" y="738.7">Access</text></g>
<g id="n_getCommandLink" class="n"><rect x="1270" y="1389" width="203" height="24"/><text class="c" x="1371.5" y="1405.4">ilObjectListGUI\getCommandLink</text></g>
<g id="n_getCommandFrame" class="n"><rect x="1281" y="1438" width="181" height="38"/><text x="1291.5" y="1453.7">ilObjectListGUI\getCommand</text><text class="c" x="1371.5" y="1467.7">Frame</text></g>
<g id="n_getCommandImage" class="n"><rect x="1281" y="1499" width="181" height="38"/><text x="1291.5" y="1514.7">ilObjectListGUI\getCommand</text><text class="c" x="1371.5" y="1528.7">Image</text></g>
<g id="n_getCurrentMasterStyle" class="n"><rect x="1288" y="1682" width="167" height="38"/><text x="1298.5" y="1697.7">ilStyleDefinition\getCurrent</text><text class="c" x="1371.5" y="1711.7">MasterStyle</text></g>
<g id="n_getUnixTime" class="n"><rect x="1296" y="1772" width="152" height="24"/><text class="c" x="1372" y="1788.4">ilDateTime\getUnixTime</text></g>
<g id="n_getCurrentSkin" class="n"><rect x="1276" y="1818" width="191" height="24"/><text class="c" x="1371.5" y="1834.4">ilStyleDefinition\getCurrentSkin</text></g>
<g id="n_getCurrentStyle" class="n"><rect x="1288" y="1867" width="167" height="38"/><text x="1298.5" y="1882.7">ilStyleDefinition\getCurrent</text><text class="c" x="1371.5" y="1896.7">Style</text></g>
<g id="n_timeZoneGetInstance" class="n"><rect x="1294" y="1929" width="155" height="24"/><text class="c" x="1371.5" y="1945.4">ilTimeZone\_getInstance</text></g>
<g id="n_getWebspaceDir" class="n"><rect x="1301" y="2010" width="140" height="24"/><text class="c" x="1371" y="2026.4">ilUtil\getWebspaceDir</text></g>
<g id="n_isPassed" class="n"><rect x="1286" y="2571" width="171" height="24"/><text class="c" x="1371.5" y="2587.4">ilObjTestAccess\_isPassed</text></g>
<g id="n_hasFinished" class="n"><rect x="1282" y="2624" width="179" height="24"/><text class="c" x="1371.5" y="2640.4">ilObjTestAccess\hasFinished</text></g>
<g id="n_hasPassed" class="n"><rect x="1291" y="2672" width="162" height="24"/><text class="c" x="1372" y="2688.4">ilParticipants\_hasPassed</text></g>
<g id="n_lookupFinished" class="n"><rect x="1308" y="2805" width="129" height="38"/><text x="1318.5" y="2820.7">ilObjSurveyAccess\</text><text class="c" x="1372.5" y="2834.7">_lookupFinished</text></g>
<g id="n_lookupStatus" class="n"><rect x="1308" y="2867" width="129" height="38"/><text x="1318.5" y="2882.7">ilExerciseMembers\</text><text class="c" x="1372.5" y="2896.7">_lookupStatus</text></g>
<g id="n_getStaticLink" class="n"><rect x="1307" y="2929" width="130" height="24"/><text class="c" x="1372" y="2945.4">ilLink\_getStaticLink</text></g>
<g id="n_isVisibleOnlyForced" class="n"><rect x="1541" y="708" width="155" height="38"/><text x="1551.5" y="723.7">ilObjectListGUI\isVisible</text><text class="c" x="1618.5" y="737.7">OnlyForced</text></g>
<g id="n_getCommandId" class="n"><rect x="1523" y="1180" width="192" height="24"/><text class="c" x="1619" y="1196.4">ilObjectListGUI\getCommandId</text></g>
<g id="n_davGetInstance" class="n"><rect x="1541" y="1363" width="156" height="24"/><text class="c" x="1619" y="1379.4">ilDAVServer\getInstance</text></g>
<g id="n_davActivationChecker" class="n"><rect x="1542" y="1411" width="153" height="38"/><text x="1552.5" y="1426.7">ilDAVActivationChecker</text><text class="c" x="1618.5" y="1440.7">\_isActive</text></g>
<g id="n_markSchema" class="n"><rect x="1518" y="2503" width="202" height="38"/><text x="1528.5" y="2518.7">ASS_MarkSchema\_getMatching</text><text class="c" x="1619" y="2532.7">MarkFromObjId</text></g>
<g id="n_updateTestResultCache" class="n"><rect x="1521" y="2564" width="196" height="38"/><text x="1531.5" y="2579.7">assQuestion\_updateTestResult</text><text class="c" x="1619" y="2593.7">Cache</text></g>
<g id="n_objectFactory" class="n"><rect x="1533" y="2626" width="171" height="38"/><text x="1543.5" y="2641.7">ilObjectFactory\getInstance</text><text class="c" x="1618.5" y="2655.7">ByObjId</text></g>
<g id="n_getLink" class="n"><rect x="1569" y="2905" width="99" height="24"/><text class="c" x="1618.5" y="2921.4">ilLink\_getLink</text></g>
<g id="n_robotSettings" class="n"><rect x="1529" y="2952" width="179" height="24"/><text class="c" x="1618.5" y="2968.4">ilRobotSettings\_getInstance</text></g>
<g id="n_davServer" class="n"><rect x="1781" y="1363" width="160" height="24"/><text class="c" x="1861" y="1379.4">ilDAVServer\ilDAVServer</text></g>
<g id="n_getQuestionCount" class="n"><rect x="1764" y="2442" width="194" height="38"/><text x="1774.5" y="2457.7">ilObjTest\_getQuestionCount</text><text class="c" x="1861" y="2471.7">AndPointsForPassOfParticipant</text></g>
<g id="n_getResultPass" class="n"><rect x="1781" y="2516" width="160" height="24"/><text class="c" x="1861" y="2532.4">ilObjTest\_getResultPass</text></g>
<g id="n_getWorkingTime" class="n"><rect x="1777" y="2564" width="168" height="38"/><text x="1787.5" y="2579.7">ilObjTest\_getWorkingTime</text><text class="c" x="1861" y="2593.7">OfParticipantForPass</text></g>
<g id="n_buildExamId" class="n"><rect x="1790" y="2626" width="141" height="24"/><text class="c" x="1860.5" y="2642.4">ilObjTest\buildExamId</text></g>
<g id="n_getProcessLocker" class="n"><rect x="1765" y="2673" width="191" height="24"/><text class="c" x="1860.5" y="2689.4">assQuestion\getProcessLocker</text></g>
<g id="n_httpWebDAVServer" class="n"><rect x="2006" y="1329" width="158" height="38"/><text x="2016.5" y="1344.7">HTTP_WebDAV_Server</text><text class="c" x="2085" y="1358.7">\HTTP_WebDAV_Server</text></g>
<g id="n_writelog" class="n"><rect x="2018" y="1390" width="134" height="24"/><text class="c" x="2085" y="1406.4">ilDAVServer\writelog</text></g>
<g id="n_lookupQuestionSetType" class="n"><rect x="2006" y="2418" width="158" height="38"/><text x="2016.5" y="2433.7">ilObjTest\lookupQuestion</text><text class="c" x="2085" y="2447.7">SetTypeByActiveId</text></g>
<g id="n_getPassScoring" class="n"><rect x="2002" y="2480" width="166" height="24"/><text class="c" x="2085" y="2496.4">ilObjTest\_getPassScoring</text></g>
<g id="n_getBestPass" class="n"><rect x="2010" y="2527" width="150" height="24"/><text class="c" x="2085" y="2543.4">ilObjTest\_getBestPass</text></g>
<g id="n_getMaxPass" class="n"><rect x="2011" y="2575" width="148" height="24"/><text class="c" x="2085" y="2591.4">ilObjTest\_getMaxPass</text></g>
</svg>
